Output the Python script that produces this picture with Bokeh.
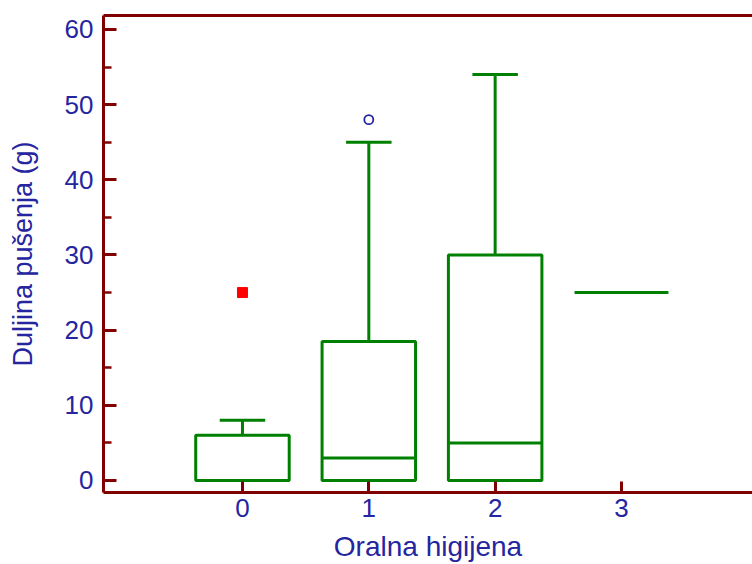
from bokeh.plotting import figure
from bokeh.models import Range1d, FixedTicker, SingleIntervalTicker, LinearAxis
from bokeh.embed import file_html
from bokeh.resources import INLINE

# ---- data ----
groups = [0, 1, 2, 3]
lower_whisker = [0, 0, 0, 25]
q1 = [0, 0, 0, 25]
median = [0, 3, 5, 25]
q3 = [6, 18.5, 30, 25]
upper_whisker = [8, 45, 54, 25]
far_out_x = [0]
far_out_y = [25]
outside_x = [1]
outside_y = [48]
x_tick_labels = ["0", "1", "2", "3"]
x_title = "Oralna higijena"
y_title = "Duljina pušenja (g)"

box_half = 0.37
cap_half = 0.18

GREEN = "#008000"
AXIS = "#800000"
TEXT = "#2525a0"
FONT = "Liberation Sans"

p = figure(width=752, height=564, output_backend="svg", toolbar_location=None,
           x_range=Range1d(-1.10, 4.037), y_range=Range1d(-1.6, 61.86),
           min_border_left=103, min_border_right=0, min_border_top=15, min_border_bottom=72)
p.outline_line_color = None
p.xgrid.visible = False
p.ygrid.visible = False

LW = 3
# boxes
left = [g - box_half for g in groups]
right = [g + box_half for g in groups]
p.quad(left=left, right=right, bottom=q1, top=q3, fill_color=None,
       line_color=GREEN, line_width=LW)
# medians
p.segment(x0=left, x1=right, y0=median, y1=median, line_color=GREEN, line_width=LW)
# whiskers
p.segment(x0=groups, x1=groups, y0=q3, y1=upper_whisker, line_color=GREEN, line_width=LW)
p.segment(x0=groups, x1=groups, y0=q1, y1=lower_whisker, line_color=GREEN, line_width=LW)
# caps (only where whisker extends beyond box)
cx, cy = [], []
for g, u, t in zip(groups, upper_whisker, q3):
    if u > t:
        cx.append(g)
        cy.append(u)
p.segment(x0=[c - cap_half for c in cx], x1=[c + cap_half for c in cx], y0=cy, y1=cy,
          line_color=GREEN, line_width=LW)
# outliers
p.scatter(far_out_x, far_out_y, marker="square", size=10, fill_color="#ff0000", line_color="#ff0000")
p.scatter(outside_x, outside_y, marker="circle", size=9, fill_color=None, line_color=TEXT, line_width=1.8)

# axes
for ax in (p.xaxis[0], p.yaxis[0]):
    ax.axis_line_color = AXIS
    ax.axis_line_width = 3
    ax.major_tick_line_color = AXIS
    ax.major_tick_line_width = 3
    ax.minor_tick_line_color = AXIS
    ax.minor_tick_line_width = 2.5
    ax.major_tick_out = 0
    ax.minor_tick_out = 0
    ax.major_label_text_color = TEXT
    ax.major_label_text_font = FONT
    ax.major_label_text_font_size = "26px"
    ax.axis_label_text_color = TEXT
    ax.axis_label_text_font = FONT
    ax.axis_label_text_font_size = "27px"
    ax.axis_label_text_font_style = "normal"

p.yaxis[0].ticker = SingleIntervalTicker(interval=10, num_minor_ticks=2)
p.yaxis[0].major_tick_in = 13
p.yaxis[0].minor_tick_in = 8
p.yaxis[0].major_label_standoff = 10
p.yaxis[0].axis_label = y_title
p.yaxis[0].axis_label_standoff = 24

p.xaxis[0].ticker = FixedTicker(ticks=groups, minor_ticks=[])
p.xaxis[0].major_label_overrides = {g: s for g, s in zip(groups, x_tick_labels)}
p.xaxis[0].major_tick_in = 11
p.xaxis[0].major_label_standoff = 6
p.xaxis[0].major_label_text_line_height = 0.9
p.xaxis[0].axis_label = x_title
p.xaxis[0].axis_label_text_font_size = "28px"
p.xaxis[0].axis_label_text_line_height = 0.9
p.xaxis[0].axis_label_standoff = 11

top_axis = LinearAxis(ticker=FixedTicker(ticks=[]), axis_line_color=AXIS, axis_line_width=3,
                      major_tick_line_color=None, minor_tick_line_color=None,
                      major_label_text_font_size="0px", major_label_standoff=0)
p.add_layout(top_axis, "above")

open("out.html", "w").write(file_html(p, INLINE))
